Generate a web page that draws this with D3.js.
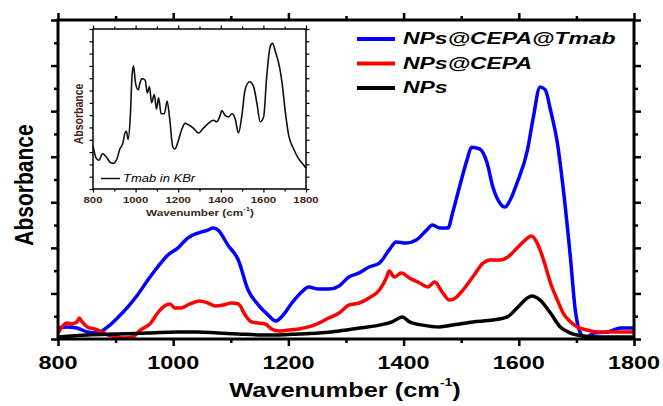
<!DOCTYPE html>
<html lang="en">
<head>
<meta charset="UTF-8">
<script src="https://cdnjs.cloudflare.com/ajax/libs/d3/7.8.5/d3.min.js"></script>
<title>FTIR spectra</title>
<style>
    body { margin: 0; background: white; }
    svg { display: block; font-family: Arial, "Liberation Sans", sans-serif; }
</style>
</head>
<body>
<svg id="chart" width="663" height="406"></svg>
<script>
    // [wavenumber (cm-1), absorbance (arb. units)]
    const npsCepaTmab = [[800,0.48],[816,0.53],[833,0.48],[851,0.31],[868,0.26],[886,0.53],[903,0.92],[921,1.40],[938,1.93],[956,2.59],[973,3.16],[991,3.69],[1008,3.99],[1025,4.43],[1043,4.65],[1060,4.78],[1069,4.87],[1078,4.78],[1095,4.12],[1113,3.47],[1130,2.15],[1148,1.49],[1165,1.05],[1178,0.79],[1188,0.97],[1206,1.58],[1223,2.06],[1235,2.28],[1253,2.19],[1270,2.19],[1288,2.33],[1305,2.72],[1323,2.90],[1340,3.16],[1358,3.33],[1375,3.91],[1387,4.26],[1405,4.21],[1422,4.34],[1440,4.78],[1450,5.00],[1463,4.87],[1477,4.87],[1485,5.53],[1497,6.67],[1510,7.85],[1518,8.42],[1532,8.34],[1545,7.72],[1555,6.67],[1567,5.97],[1576,5.79],[1585,6.10],[1597,6.85],[1615,8.29],[1625,9.70],[1637,11.06],[1646,10.93],[1655,10.05],[1667,8.60],[1678,6.41],[1690,3.47],[1698,1.27],[1707,0.26],[1716,0.02],[1730,0.26],[1754,0.31],[1777,0.48],[1800,0.48]];
    const npsCepa = [[800,0.26],[807,0.53],[816,0.70],[824,0.66],[833,0.75],[837,0.92],[842,0.75],[851,0.53],[863,0.44],[873,0.35],[886,0.18],[903,0.09],[915,0.04],[929,0.09],[943,0.39],[961,0.70],[973,1.14],[985,1.45],[994,1.54],[1003,1.36],[1013,1.36],[1029,1.54],[1046,1.67],[1060,1.58],[1073,1.45],[1087,1.49],[1101,1.58],[1113,1.54],[1125,1.05],[1136,0.75],[1148,0.70],[1160,0.66],[1171,0.44],[1183,0.35],[1200,0.39],[1218,0.44],[1235,0.53],[1253,0.70],[1270,0.92],[1288,1.14],[1305,1.49],[1323,1.58],[1340,1.80],[1358,2.15],[1370,2.68],[1375,2.98],[1384,2.72],[1396,2.90],[1410,2.68],[1428,2.46],[1442,2.28],[1454,2.50],[1468,2.02],[1480,1.71],[1492,1.84],[1503,2.15],[1520,2.72],[1538,3.33],[1550,3.47],[1567,3.47],[1581,3.60],[1597,3.99],[1611,4.34],[1622,4.52],[1632,4.21],[1643,3.47],[1655,2.46],[1667,1.71],[1677,1.14],[1690,0.75],[1702,0.53],[1719,0.39],[1737,0.31],[1760,0.31],[1782,0.31],[1800,0.31]];
    const nps = [[800,0.09],[851,0.18],[903,0.22],[956,0.26],[1008,0.31],[1043,0.31],[1078,0.26],[1113,0.22],[1148,0.18],[1183,0.18],[1218,0.22],[1253,0.26],[1288,0.35],[1323,0.48],[1358,0.61],[1380,0.75],[1398,0.97],[1410,0.75],[1433,0.61],[1462,0.53],[1485,0.61],[1520,0.75],[1555,0.83],[1580,0.97],[1597,1.36],[1615,1.80],[1623,1.89],[1637,1.71],[1655,1.14],[1672,0.53],[1690,0.26],[1713,0.13],[1742,0.09],[1772,0.09],[1800,0.09]];
    const tmabKBr = [[800,0.27],[816,0.19],[828,0.18],[844,0.22],[863,0.20],[878,0.17],[894,0.16],[910,0.18],[926,0.25],[941,0.29],[950,0.35],[957,0.36],[965,0.31],[975,0.45],[983,0.70],[990,0.77],[1000,0.66],[1012,0.62],[1020,0.66],[1030,0.69],[1045,0.68],[1055,0.60],[1065,0.64],[1075,0.54],[1088,0.59],[1098,0.50],[1108,0.57],[1120,0.47],[1135,0.47],[1148,0.55],[1160,0.44],[1175,0.26],[1185,0.25],[1200,0.30],[1216,0.37],[1232,0.41],[1250,0.40],[1271,0.38],[1295,0.35],[1318,0.38],[1342,0.41],[1365,0.43],[1381,0.42],[1397,0.46],[1405,0.49],[1420,0.46],[1436,0.45],[1452,0.47],[1467,0.44],[1483,0.35],[1499,0.46],[1514,0.62],[1535,0.67],[1554,0.64],[1569,0.54],[1585,0.42],[1601,0.45],[1616,0.71],[1632,0.89],[1643,0.91],[1656,0.86],[1676,0.76],[1687,0.67],[1703,0.48],[1718,0.34],[1742,0.25],[1765,0.19],[1789,0.15],[1800,0.13]];

    const seriesNames = ["NPs@CEPA@Tmab", "NPs@CEPA", "NPs"];
    const seriesColors = ["#0000ff", "#ff0000", "#000000"];
    const seriesData = [npsCepaTmab, npsCepa, nps];
    const xMajor = [800, 1000, 1200, 1400, 1600, 1800];
    const xMinor = [900, 1100, 1300, 1500, 1700];
    const insetName = "Tmab in KBr";

    const svg = d3.select("#chart");
    const sx = 1.3; // the figure is stretched sideways
    const inkBrown = "#3d2614";

    const x = d3.scaleLinear().domain([800, 1800]).range([58, 634]);
    const y = d3.scaleLinear().domain([0, 14]).range([339, 20]);

    function drawFrame(g, xs, ys, o) {
        const xr = xs.range(), yr = ys.range();
        const defs = [
            [d3.axisBottom, xs, `translate(0,${yr[0]})`, o.xMajor, o.big],
            [d3.axisBottom, xs, `translate(0,${yr[0]})`, o.xMinor, o.small],
            [d3.axisTop, xs, `translate(0,${yr[1]})`, o.xMajor, o.big],
            [d3.axisTop, xs, `translate(0,${yr[1]})`, o.xMinor, o.small],
            [d3.axisLeft, ys, `translate(${xr[0]},0)`, o.yMajor, o.big],
            [d3.axisLeft, ys, `translate(${xr[0]},0)`, o.yMinor, o.ySmall],
            [d3.axisRight, ys, `translate(${xr[1]},0)`, o.yMajor, o.big],
            [d3.axisRight, ys, `translate(${xr[1]},0)`, o.yMinor, o.ySmall]
        ];
        defs.forEach(([axisFn, sc, tr, vals, len]) => {
            const a = g.append("g").attr("transform", tr)
                .call(axisFn(sc).tickValues(vals).tickSize(len).tickSizeOuter(0).tickFormat(""));
            a.select(".domain").remove();
            a.selectAll(".tick text").remove();
            a.selectAll(".tick line").attr("stroke", "#000").attr("stroke-width", o.tw);
        });
        g.append("rect")
            .attr("x", xr[0]).attr("y", yr[1])
            .attr("width", xr[1] - xr[0]).attr("height", yr[0] - yr[1])
            .attr("fill", "none").attr("stroke", "#000").attr("stroke-width", o.fw);
    }

    // main curves
    svg.append("clipPath").attr("id", "plotClip").append("rect")
        .attr("x", 58).attr("y", 20).attr("width", 576).attr("height", 319);
    const line = d3.line().x(d => x(d[0])).y(d => y(d[1])).curve(d3.curveMonotoneX);
    const curves = svg.append("g").attr("clip-path", "url(#plotClip)");
    seriesData.forEach((s, i) => {
        curves.append("path").datum(s)
            .attr("d", line)
            .attr("fill", "none")
            .attr("stroke", seriesColors[i])
            .attr("stroke-width", 3.5)
            .attr("stroke-linejoin", "round");
    });

    drawFrame(svg.append("g"), x, y, {
        xMajor: xMajor, xMinor: xMinor,
        yMajor: d3.range(0, 15, 2), yMinor: d3.range(1, 15, 2),
        big: 7, small: 4, ySmall: 4, tw: 2.5, fw: 3
    });

    svg.selectAll(".xlab").data(xMajor).join("text")
        .attr("class", "xlab")
        .attr("transform", d => `translate(${x(d)},369) scale(${sx},1)`)
        .attr("text-anchor", "middle")
        .attr("font-size", 18).attr("font-weight", "bold")
        .text(d => d);

    const xt = svg.append("text")
        .attr("transform", `translate(345,397) scale(1.27,1)`)
        .attr("text-anchor", "middle")
        .attr("font-size", 20).attr("font-weight", "bold");
    xt.append("tspan").text("Wavenumber (cm");
    xt.append("tspan").attr("font-size", 11).attr("dy", -11).text("-1");
    xt.append("tspan").attr("dy", 11).text(")");

    svg.append("text")
        .attr("transform", "translate(33,185) scale(1.25,1) rotate(-90)")
        .attr("text-anchor", "middle")
        .attr("font-size", 21).attr("font-weight", "bold")
        .text("Absorbance");

    // legend
    const legend = svg.append("g");
    seriesNames.forEach((name, i) => {
        const ly = 39 + i * 24.5;
        legend.append("line")
            .attr("x1", 357).attr("x2", 395).attr("y1", ly).attr("y2", ly)
            .attr("stroke", seriesColors[i]).attr("stroke-width", 4);
        legend.append("text")
            .attr("transform", `translate(403,${ly + 5}) scale(1.35,1)`)
            .attr("font-size", 17).attr("font-weight", "bold").attr("font-style", "italic")
            .text(name);
    });

    // inset
    const ix = d3.scaleLinear().domain([800, 1800]).range([93, 306]);
    const iy = d3.scaleLinear().domain([0, 1]).range([189, 29]);
    const inset = svg.append("g");
    inset.append("rect").attr("x", 93).attr("y", 29).attr("width", 213).attr("height", 160).attr("fill", "#fff");
    const iline = d3.line().x(d => ix(d[0])).y(d => iy(d[1])).curve(d3.curveMonotoneX);
    inset.append("path").datum(tmabKBr)
        .attr("d", iline)
        .attr("fill", "none").attr("stroke", "#111").attr("stroke-width", 1.6)
        .attr("stroke-linejoin", "round");
    const iyTicks = d3.range(14).map(i => i / 13);
    drawFrame(inset.append("g"), ix, iy, {
        xMajor: xMajor, xMinor: xMinor,
        yMajor: iyTicks, yMinor: [],
        big: 3.5, small: 2.5, ySmall: 2.5, tw: 1.2, fw: 1.5
    });
    inset.selectAll(".ixlab").data(xMajor).join("text")
        .attr("class", "ixlab")
        .attr("transform", d => `translate(${ix(d)},203) scale(1.2,1)`)
        .attr("text-anchor", "middle")
        .attr("font-size", 9.5).attr("font-weight", "bold").attr("fill", inkBrown)
        .text(d => d);
    const ixt = inset.append("text")
        .attr("transform", `translate(200,216) scale(${sx},1)`)
        .attr("text-anchor", "middle")
        .attr("font-size", 9).attr("font-weight", "bold").attr("fill", inkBrown);
    ixt.append("tspan").text("Wavenumber (cm");
    ixt.append("tspan").attr("font-size", 6).attr("dy", -5).text("-1");
    ixt.append("tspan").attr("dy", 5).text(")");
    inset.append("text")
        .attr("transform", `translate(83,114) scale(${sx},1) rotate(-90)`)
        .attr("text-anchor", "middle")
        .attr("font-size", 10.5).attr("font-weight", "bold").attr("fill", "#4a2410")
        .text("Absorbance");
    inset.append("line")
        .attr("x1", 101).attr("x2", 120).attr("y1", 178.5).attr("y2", 178.5)
        .attr("stroke", "#111").attr("stroke-width", 1.5);
    inset.append("text")
        .attr("transform", `translate(123,182) scale(${sx},1)`)
        .attr("font-size", 10).attr("font-style", "italic")
        .text(insetName);
</script>
</body>
</html>
